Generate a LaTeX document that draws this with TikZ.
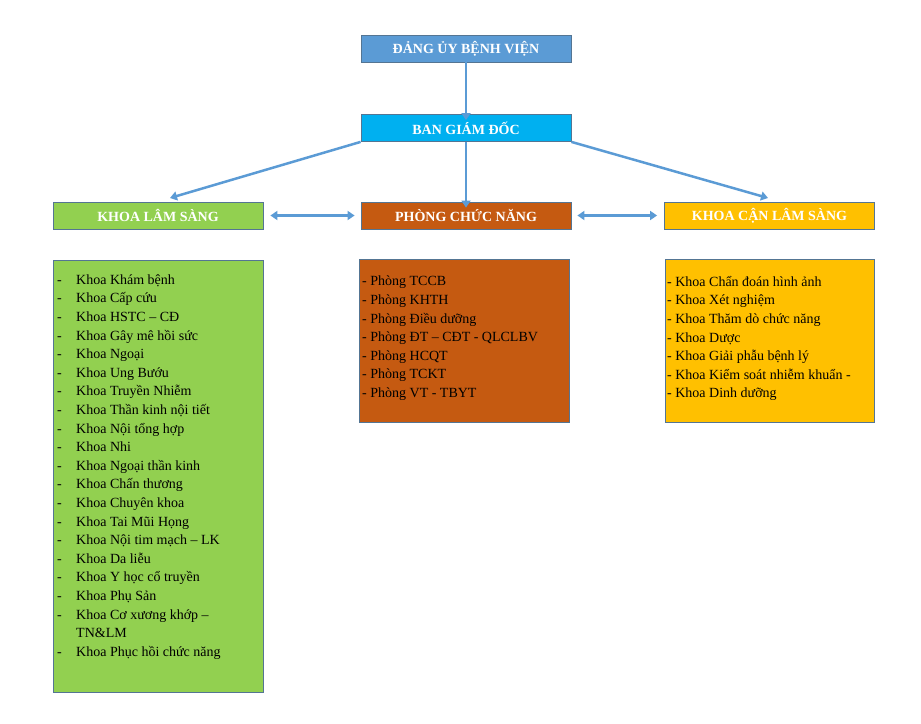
\documentclass[tikz,border=0pt]{standalone}
\usepackage{fontspec}
\setmainfont{Liberation Serif}
\usetikzlibrary{arrows.meta}
\definecolor{cA}{HTML}{5B9BD5}
\definecolor{cB}{HTML}{00B0F0}
\definecolor{cG}{HTML}{92D050}
\definecolor{cO}{HTML}{C55A11}
\definecolor{cY}{HTML}{FFC000}
\definecolor{edge}{HTML}{41719C}
\begin{document}
\begin{tikzpicture}[x=1pt,y=-1pt,
  hdr/.style={draw=edge!70!gray,line width=0.8pt,minimum width=210pt,minimum height=27pt,inner sep=0pt,text=white,font=\fontsize{14}{16}\selectfont\bfseries},
  lst/.style={draw=edge!70!gray,line width=0.8pt,anchor=north west,inner sep=0pt},
  arr/.style={draw=cA,line width=2.5pt,-{Triangle[length=7pt,width=9pt]}},
  darr/.style={draw=cA,line width=2.5pt,{Triangle[length=7pt,width=9pt]}-{Triangle[length=7pt,width=9pt]}},
  txt/.style={anchor=north west,align=left,inner sep=0pt,font=\fontsize{14}{18.6}\selectfont}]
\useasboundingbox (0,0) rectangle (921,723);
\node[hdr,fill=cA] (dang) at (466,48.5) {ĐẢNG ỦY BỆNH VIỆN};
\node[hdr,fill=cB] (bgd) at (466,128) {BAN GIÁM ĐỐC};
\node[hdr,fill=cG] (kls) at (158,215.5) {KHOA LÂM SÀNG};
\node[hdr,fill=cO] (pcn) at (466,215.5) {PHÒNG CHỨC NĂNG};
\node[hdr,fill=cY] (kcls) at (769.5,215.5) {KHOA CẬN LÂM SÀNG};
\node[lst,fill=cG,minimum width=210pt,minimum height=432pt] (l1) at (53,260) {};
\node[lst,fill=cO,minimum width=210pt,minimum height=163pt] (l2) at (359,259) {};
\node[lst,fill=cY,minimum width=209pt,minimum height=163pt] (l3) at (665,259) {};
\node[txt] (t1) at (57,271) {\begin{tabular}{@{}p{19pt}@{}l@{}}
-&Khoa Khám bệnh\\ -&Khoa Cấp cứu\\ -&Khoa HSTC – CĐ\\ -&Khoa Gây mê hồi sức\\
-&Khoa Ngoại\\ -&Khoa Ung Bướu\\ -&Khoa Truyền Nhiễm\\ -&Khoa Thần kinh nội tiết\\
-&Khoa Nội tổng hợp\\ -&Khoa Nhi\\ -&Khoa Ngoại thần kinh\\ -&Khoa Chấn thương\\
-&Khoa Chuyên khoa\\ -&Khoa Tai Mũi Họng\\ -&Khoa Nội tim mạch – LK\\ -&Khoa Da liễu\\
-&Khoa Y học cổ truyền\\ -&Khoa Phụ Sản\\ -&Khoa Cơ xương khớp –\\ &TN\&LM\\ -&Khoa Phục hồi chức năng
\end{tabular}};
\node[txt] (t2) at (362,276) {- Phòng TCCB\\- Phòng KHTH\\- Phòng Điều dưỡng\\- Phòng ĐT – CĐT - QLCLBV\\- Phòng HCQT\\- Phòng TCKT\\- Phòng VT - TBYT};
\node[txt] (t3) at (667,276) {- Khoa Chẩn đoán hình ảnh\\- Khoa Xét nghiệm\\- Khoa Thăm dò chức năng\\- Khoa Dược\\- Khoa Giải phẫu bệnh lý\\- Khoa Kiểm soát nhiễm khuẩn -\\- Khoa Dinh dưỡng};
\coordinate (kl) at (170,198);
\coordinate (kr) at (768,198);
\draw[arr] ([yshift=4pt]dang.south) -- ([yshift=-6pt]bgd.north);
\draw[arr] (bgd.south) -- ([yshift=-6pt]pcn.north);
\draw[arr] (bgd.south west) -- (kl);
\draw[arr] (bgd.south east) -- (kr);
\draw[darr] ([xshift=7pt]kls.east) -- ([xshift=-6pt]pcn.west);
\draw[darr] ([xshift=6pt]pcn.east) -- ([xshift=-7pt]kcls.west);
\end{tikzpicture}
\end{document}
